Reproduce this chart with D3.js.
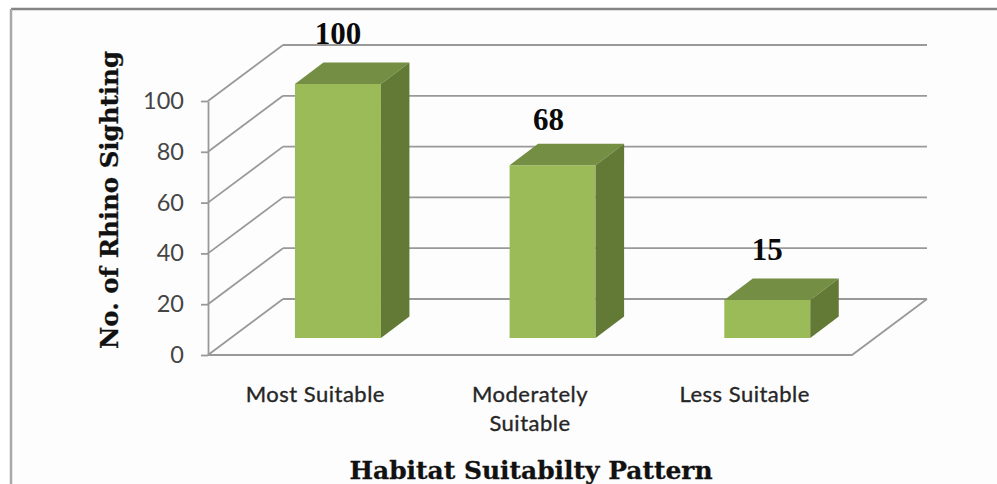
<!DOCTYPE html>
<html>
<head>
<meta charset="utf-8">
<script src="https://cdn.jsdelivr.net/npm/d3@7"></script>
<style>
  html, body { margin: 0; padding: 0; background: #fff; }
  svg { display: block; }
</style>
</head>
<body>
<div class="graph"></div>
<script>
var categories = ["Most Suitable", "Moderately Suitable", "Less Suitable"];
var sightings = [100, 68, 15];
var yTicks = [0, 20, 40, 60, 80, 100];
var xTitle = "Habitat Suitabilty Pattern";
var yTitle = "No. of Rhino Sighting";

var width = 997;
var height = 484;

// plot front plane, the walls are pushed back by depth
var left = 208, right = 852, top_ = 101, bottom = 355;
var depthX = 75, depthY = -56;
var barDepthX = 28.5, barDepthY = -21.5;
var gapX = 22.6, gapY = -17;

var gridColor = "#999999";

var svg = d3.select(".graph").append("svg")
  .attr("width", width)
  .attr("height", height);

// panel and frame
svg.append("rect")
  .attr("x", 11).attr("y", 9)
  .attr("width", width - 11).attr("height", height - 9)
  .attr("fill", "#fdfdfd");

svg.append("line")
  .attr("x1", 11).attr("y1", 9).attr("x2", width).attr("y2", 9)
  .attr("stroke", "#858585").attr("stroke-width", 2.5);

svg.append("line")
  .attr("x1", 11).attr("y1", 9).attr("x2", 11).attr("y2", height)
  .attr("stroke", "#a8a8a8").attr("stroke-width", 2.5);

var x = d3.scaleBand()
  .domain(categories)
  .range([left, right]);

var y = d3.scaleLinear()
  .domain([0, 100])
  .range([bottom, top_]);

// back wall gridlines and the side wall slants
var grid = svg.append("g")
  .attr("fill", "none")
  .attr("stroke", gridColor)
  .attr("stroke-width", 1.8);

grid.selectAll(".back")
  .data(yTicks)
  .enter().append("line")
  .attr("class", "back")
  .attr("x1", left + depthX)
  .attr("x2", right + depthX)
  .attr("y1", d => y(d) + depthY)
  .attr("y2", d => y(d) + depthY);

grid.selectAll(".slant")
  .data(yTicks)
  .enter().append("line")
  .attr("class", "slant")
  .attr("x1", left)
  .attr("x2", left + depthX)
  .attr("y1", d => y(d))
  .attr("y2", d => y(d) + depthY);

// floor front and right edges
grid.append("path")
  .attr("d", d3.line()([
    [left, y(0)],
    [right, y(0)],
    [right + depthX, y(0) + depthY]
  ]));

// y axis
var yAxis = d3.axisLeft(y)
  .tickValues(yTicks)
  .tickSize(7)
  .tickPadding(17)
  .tickSizeOuter(0);

var yAxisGroup = svg.append("g")
  .attr("transform", "translate(" + left + ",0)")
  .call(yAxis);

yAxisGroup.selectAll("line, path")
  .attr("stroke", gridColor)
  .attr("stroke-width", 1.8);

yAxisGroup.selectAll("text")
  .attr("fill", "#454545")
  .style("font-family", "Lato, sans-serif")
  .style("font-size", "23.5px");

// 3d bars
var bars = svg.append("g")
  .selectAll("g")
  .data(categories)
  .enter().append("g");

var barWidth = 86;
function barLeft(c) { return x(c) + x.bandwidth() / 2 - barWidth / 2 + gapX; }
function barTop(i) { return y(sightings[i]) + gapY; }
var barBottom = y(0) + gapY;

bars.append("rect")
  .attr("x", barLeft)
  .attr("y", (c, i) => barTop(i))
  .attr("width", barWidth)
  .attr("height", (c, i) => barBottom - barTop(i))
  .attr("fill", "#9bbb59");

bars.append("path")
  .attr("fill", "#748f43")
  .attr("d", (c, i) => d3.line()([
    [barLeft(c), barTop(i)],
    [barLeft(c) + barWidth, barTop(i)],
    [barLeft(c) + barWidth + barDepthX, barTop(i) + barDepthY],
    [barLeft(c) + barDepthX, barTop(i) + barDepthY]
  ]) + "Z");

bars.append("path")
  .attr("fill", "#637a36")
  .attr("d", (c, i) => d3.line()([
    [barLeft(c) + barWidth, barTop(i)],
    [barLeft(c) + barWidth + barDepthX, barTop(i) + barDepthY],
    [barLeft(c) + barWidth + barDepthX, barBottom + barDepthY],
    [barLeft(c) + barWidth, barBottom]
  ]) + "Z");

// value labels, the middle one was dragged by hand in the original
bars.append("text")
  .attr("x", (c, i) => barLeft(c) + barWidth / 2 + (i === 1 ? -4 : 0))
  .attr("y", (c, i) => barTop(i) - 40 + (i === 1 ? 5 : 0))
  .attr("text-anchor", "middle")
  .attr("fill", "#0a0a0a")
  .style("font-family", "'Liberation Serif', serif")
  .style("font-weight", "bold")
  .style("font-size", "31px")
  .text((c, i) => sightings[i]);

// category labels, wrapped on the long one
svg.append("g")
  .selectAll("text")
  .data(categories)
  .enter().append("text")
  .attr("text-anchor", "middle")
  .attr("fill", "#262626")
  .attr("stroke", "#262626")
  .attr("stroke-width", 0.35)
  .style("font-family", "Lato, sans-serif")
  .style("font-size", "22px")
  .style("letter-spacing", "0.5px")
  .each(function(c) {
    var words = c.length > 14 ? c.split(" ") : [c];
    d3.select(this).selectAll("tspan")
      .data(words)
      .enter().append("tspan")
      .attr("x", x(c) + x.bandwidth() / 2)
      .attr("y", (w, i) => 402 + i * 29)
      .text(w => w);
  });

// axis titles
svg.append("text")
  .attr("x", 531)
  .attr("y", 479)
  .attr("text-anchor", "middle")
  .attr("textLength", 363)
  .attr("lengthAdjust", "spacingAndGlyphs")
  .attr("fill", "#111")
  .attr("stroke", "#111")
  .attr("stroke-width", 0.3)
  .style("font-family", "'DejaVu Serif', serif")
  .style("font-weight", "bold")
  .style("font-size", "25px")
  .text(xTitle);

svg.append("text")
  .attr("transform", "translate(118,200) rotate(-90)")
  .attr("text-anchor", "middle")
  .attr("textLength", 298)
  .attr("lengthAdjust", "spacingAndGlyphs")
  .attr("fill", "#111")
  .attr("stroke", "#111")
  .attr("stroke-width", 0.3)
  .style("font-family", "'DejaVu Serif', serif")
  .style("font-weight", "bold")
  .style("font-size", "25px")
  .text(yTitle);
</script>
</body>
</html>
